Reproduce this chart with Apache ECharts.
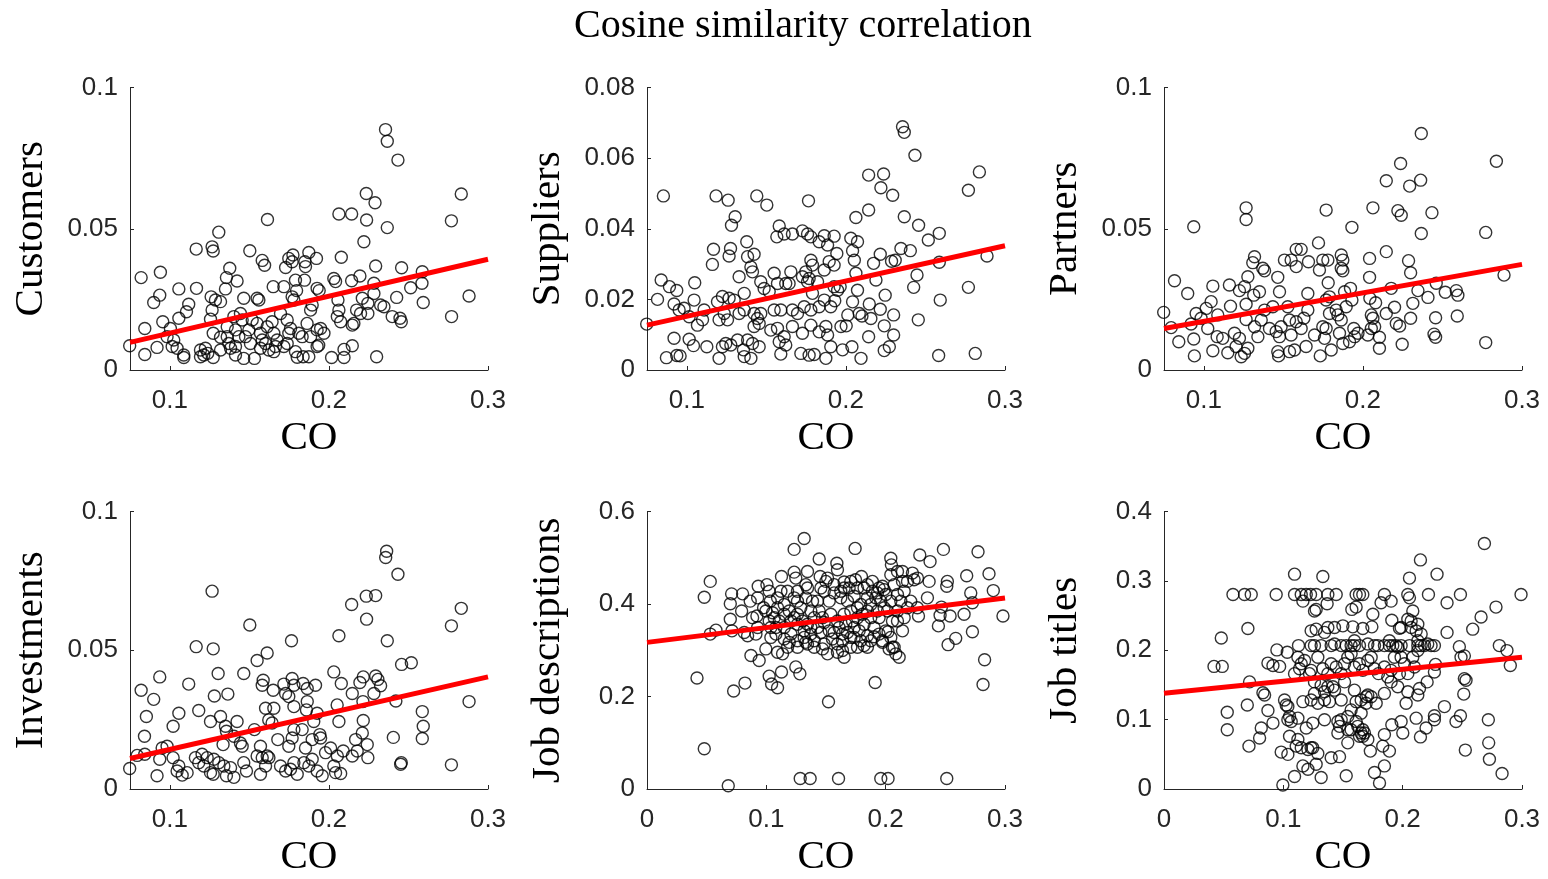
<!DOCTYPE html>
<html><head><meta charset="utf-8">
<script src="https://cdn.jsdelivr.net/npm/echarts@6/dist/echarts.min.js"></script>
<style>html,body{margin:0;padding:0;background:#fff}#c{width:1548px;height:879px}</style>
</head><body><div id="c"></div>
<script>
const titleText = 'Cosine similarity correlation';
const xName = 'CO';
const yNames = ['Customers', 'Suppliers', 'Partners', 'Investments', 'Job descriptions', 'Job titles'];
const xMins = [0.075, 0.075, 0.075, 0.075, 0, 0];
const xMaxs = [0.3, 0.3, 0.3, 0.3, 0.3, 0.3];
const xTickVals = [[0.1, 0.2, 0.3], [0.1, 0.2, 0.3], [0.1, 0.2, 0.3], [0.1, 0.2, 0.3], [0, 0.1, 0.2, 0.3], [0, 0.1, 0.2, 0.3]];
const yMaxs = [0.1, 0.08, 0.1, 0.1, 0.6, 0.4];
const yIntervals = [0.05, 0.02, 0.05, 0.05, 0.2, 0.1];

const customers = [
[0.2356,0.0851],[0.2367,0.081],[0.2434,0.0743],[0.2235,0.0625],[0.229,0.0592],[0.2832,0.0623],[0.2063,0.0552],[0.2143,0.0552],[0.2237,0.0531],[0.2367,0.0504],[0.277,0.0528],[0.1614,0.0533],[0.1308,0.0488],[0.1166,0.0428],[0.1266,0.0436],[0.1273,0.0421],[0.222,0.0454],[0.1503,0.0422],[0.1581,0.0388],[0.1596,0.0371],[0.1774,0.0407],[0.1874,0.0416],[0.1922,0.0395],[0.1748,0.0395],[0.1769,0.0383],[0.1728,0.0363],[0.1849,0.0383],[0.1853,0.0366],[0.2078,0.0399],[0.2294,0.0368],[0.2457,0.0362],[0.2587,0.0348],[0.2585,0.0307],[0.0941,0.0346],[0.082,0.0327],[0.1377,0.036],[0.1356,0.0327],[0.1423,0.0315],[0.135,0.0287],[0.179,0.0318],[0.1847,0.0318],[0.2031,0.0324],[0.2042,0.0313],[0.2143,0.0316],[0.2195,0.0333],[0.2283,0.0307],[0.2514,0.0291],[0.165,0.0295],[0.1717,0.0295],[0.1797,0.0281],[0.1926,0.0289],[0.1939,0.0281],[0.1057,0.0287],[0.1168,0.0289],[0.0937,0.0265],[0.0899,0.0239],[0.1119,0.0233],[0.1105,0.0206],[0.1057,0.0183],[0.0956,0.0171],[0.0843,0.0147],[0.0748,0.0086],[0.0843,0.0055],[0.092,0.008],[0.1015,0.0083],[0.1046,0.0077],[0.1088,0.0053],[0.1088,0.0044],[0.1193,0.0071],[0.1193,0.0047],[0.1224,0.0077],[0.1239,0.0059],[0.1273,0.0044],[0.1214,0.0053],[0.126,0.0259],[0.1287,0.0248],[0.1319,0.0242],[0.1266,0.0212],[0.1256,0.018],[0.1273,0.013],[0.1319,0.0116],[0.1361,0.0153],[0.1361,0.0118],[0.1371,0.0094],[0.1382,0.0077],[0.1413,0.0142],[0.1413,0.0053],[0.1444,0.02],[0.1455,0.0177],[0.1465,0.0254],[0.1476,0.0118],[0.1465,0.0041],[0.1532,0.0041],[0.1549,0.0254],[0.156,0.0248],[0.1549,0.0165],[0.157,0.013],[0.1581,0.0106],[0.1612,0.0153],[0.1643,0.0171],[0.1654,0.013],[0.1664,0.0083],[0.1717,0.0083],[0.1738,0.0177],[0.1759,0.0147],[0.1769,0.0259],[0.178,0.0248],[0.179,0.0065],[0.1811,0.013],[0.1801,0.0045],[0.1838,0.0047],[0.1863,0.0165],[0.1874,0.0047],[0.1885,0.0212],[0.1895,0.023],[0.1885,0.0118],[0.1926,0.0142],[0.1936,0.0088],[0.1948,0.0147],[0.1969,0.013],[0.2017,0.0044],[0.2053,0.0189],[0.2063,0.0212],[0.2057,0.0248],[0.2074,0.0171],[0.2095,0.0073],[0.2095,0.0044],[0.2147,0.0159],[0.2157,0.0165],[0.2147,0.0086],[0.2174,0.0212],[0.2199,0.02],[0.221,0.0254],[0.2245,0.0236],[0.2245,0.02],[0.2283,0.0271],[0.23,0.0047],[0.2325,0.023],[0.2346,0.0224],[0.2398,0.0189],[0.2447,0.0183],[0.2455,0.0171],[0.2426,0.0257],[0.2593,0.0239],[0.2771,0.0189],[0.2881,0.0262],[0.1403,0.0189],[0.1434,0.0118],[0.1497,0.0142],[0.1518,0.0177],[0.1602,0.0094],[0.1623,0.0071],[0.1675,0.0106],[0.1696,0.02],[0.1748,0.013],[0.1832,0.0118],[0.1004,0.0147],[0.0983,0.0118],[0.1025,0.0106],[0.1319,0.0071],[0.1413,0.0083],[0.1507,0.0094],[0.157,0.0077],[0.1654,0.0065],[0.1738,0.0094],[0.1926,0.0083]
];
const suppliers = [
[0.2356,0.0689],[0.2367,0.0673],[0.2434,0.0608],[0.2143,0.0552],[0.2237,0.0555],[0.222,0.0516],[0.2294,0.0495],[0.2839,0.0561],[0.277,0.0509],[0.0853,0.0493],[0.1184,0.0493],[0.126,0.0481],[0.144,0.0493],[0.1503,0.0467],[0.1765,0.0479],[0.2143,0.0453],[0.2063,0.0432],[0.2367,0.0434],[0.2457,0.041],[0.1304,0.0434],[0.1281,0.041],[0.1581,0.0408],[0.1566,0.0377],[0.1612,0.0385],[0.1664,0.0385],[0.1727,0.0394],[0.1759,0.0385],[0.178,0.0377],[0.1864,0.038],[0.1926,0.0379],[0.1832,0.0363],[0.1885,0.0354],[0.2031,0.0373],[0.2073,0.0363],[0.2042,0.0338],[0.2053,0.0311],[0.1943,0.033],[0.2587,0.0387],[0.2518,0.0368],[0.2405,0.0338],[0.2346,0.0344],[0.1168,0.0342],[0.1275,0.0344],[0.1266,0.0323],[0.1161,0.0299],[0.1377,0.0363],[0.1382,0.0321],[0.1423,0.0328],[0.1403,0.0292],[0.1413,0.0278],[0.178,0.0311],[0.179,0.0297],[0.1895,0.0307],[0.1926,0.0297],[0.2216,0.0328],[0.2174,0.0302],[0.2287,0.0308],[0.231,0.0311],[0.2587,0.0305],[0.2887,0.0323],[0.2447,0.0269],[0.2426,0.0234],[0.277,0.0234],[0.2189,0.0255],[0.2063,0.0274],[0.2073,0.0226],[0.1964,0.0236],[0.1948,0.0226],[0.1864,0.0283],[0.1769,0.0259],[0.1759,0.025],[0.179,0.0217],[0.1822,0.025],[0.1654,0.0278],[0.1643,0.0245],[0.1622,0.0245],[0.1549,0.0274],[0.157,0.0245],[0.1465,0.025],[0.1486,0.0231],[0.1518,0.0222],[0.1329,0.0264],[0.1361,0.0217],[0.105,0.0247],[0.0839,0.0255],[0.0891,0.0236],[0.0937,0.0225],[0.0816,0.02],[0.0748,0.013],[0.1046,0.0198],[0.092,0.0187],[0.0952,0.017],[0.0983,0.0175],[0.1015,0.0151],[0.1067,0.0127],[0.1099,0.0142],[0.1109,0.017],[0.1193,0.0193],[0.1224,0.0208],[0.1266,0.0203],[0.1298,0.0198],[0.1235,0.016],[0.1203,0.0142],[0.1256,0.0142],[0.1329,0.016],[0.1361,0.017],[0.1423,0.016],[0.1444,0.0146],[0.1455,0.0132],[0.1465,0.016],[0.1423,0.0123],[0.1528,0.0113],[0.1549,0.017],[0.1591,0.017],[0.157,0.0118],[0.1612,0.0094],[0.1664,0.017],[0.1696,0.016],[0.1738,0.0179],[0.178,0.017],[0.1832,0.0179],[0.1864,0.0198],[0.1905,0.0179],[0.193,0.0196],[0.1664,0.0123],[0.1727,0.0104],[0.178,0.0127],[0.1832,0.0108],[0.1874,0.0123],[0.1885,0.0099],[0.1905,0.0066],[0.1874,0.0033],[0.1717,0.0047],[0.1769,0.0042],[0.1801,0.0044],[0.1979,0.0057],[0.2038,0.0066],[0.2095,0.0033],[0.1969,0.0123],[0.2002,0.0125],[0.2012,0.0156],[0.2042,0.0193],[0.2084,0.016],[0.2101,0.0153],[0.2147,0.0187],[0.2157,0.0146],[0.2216,0.0172],[0.2247,0.0212],[0.23,0.0156],[0.2241,0.0125],[0.2143,0.0094],[0.23,0.0099],[0.2273,0.0066],[0.2241,0.0055],[0.2455,0.0142],[0.2593,0.0198],[0.2583,0.0041],[0.2813,0.0047],[0.0872,0.0035],[0.0937,0.0041],[0.0958,0.004],[0.092,0.009],[0.1015,0.0087],[0.1042,0.0069],[0.1126,0.0066],[0.1203,0.0033],[0.1224,0.0066],[0.1245,0.0075],[0.1277,0.0071],[0.1319,0.0085],[0.1356,0.0057],[0.1361,0.0038],[0.1403,0.0033],[0.1382,0.0085],[0.1413,0.0075],[0.1455,0.0066],[0.1581,0.008],[0.1591,0.0045],[0.1622,0.0071],[0.1727,0.0264],[0.1748,0.0278],[0.1926,0.0236]
];
const partners = [
[0.2367,0.0837],[0.2237,0.0731],[0.2839,0.0739],[0.2147,0.067],[0.2294,0.0651],[0.2363,0.0672],[0.1266,0.0574],[0.1266,0.0533],[0.1769,0.0566],[0.2063,0.0574],[0.222,0.0564],[0.2241,0.0548],[0.2434,0.0557],[0.0937,0.0507],[0.1931,0.0505],[0.2772,0.0487],[0.2367,0.0483],[0.1721,0.045],[0.1581,0.0427],[0.1612,0.0427],[0.1319,0.0401],[0.1308,0.038],[0.1371,0.036],[0.1382,0.0351],[0.1507,0.0389],[0.1549,0.0389],[0.1581,0.0366],[0.1658,0.0383],[0.1727,0.0354],[0.1748,0.0389],[0.178,0.0389],[0.1864,0.0407],[0.1874,0.0389],[0.1864,0.036],[0.1874,0.0351],[0.2042,0.0395],[0.2042,0.0328],[0.2147,0.0419],[0.2287,0.0387],[0.23,0.0344],[0.2887,0.0336],[0.1277,0.033],[0.1465,0.0328],[0.0816,0.0316],[0.0899,0.0271],[0.1057,0.0297],[0.1161,0.0301],[0.1224,0.0281],[0.1256,0.0295],[0.1314,0.0265],[0.135,0.0277],[0.1476,0.0277],[0.1654,0.0271],[0.1782,0.0309],[0.179,0.0259],[0.1885,0.0277],[0.1922,0.0289],[0.1931,0.0248],[0.2044,0.0254],[0.208,0.0238],[0.2178,0.0289],[0.2346,0.0281],[0.2409,0.0257],[0.2461,0.0307],[0.2518,0.0275],[0.2587,0.0281],[0.2597,0.0265],[0.2314,0.0236],[0.2199,0.0222],[0.2147,0.02],[0.2053,0.0195],[0.2063,0.0183],[0.2074,0.0153],[0.23,0.0183],[0.221,0.0165],[0.2231,0.0156],[0.2457,0.0185],[0.2593,0.0191],[0.2447,0.0127],[0.2457,0.0116],[0.2772,0.0097],[0.2247,0.0091],[0.2104,0.0116],[0.2104,0.0077],[0.0748,0.0204],[0.0795,0.015],[0.0843,0.01],[0.0937,0.011],[0.0941,0.005],[0.092,0.0163],[0.0952,0.02],[0.0983,0.0183],[0.1015,0.0218],[0.1046,0.0242],[0.1025,0.0147],[0.1088,0.0195],[0.1084,0.0118],[0.1119,0.0112],[0.1057,0.0068],[0.1151,0.0061],[0.1168,0.0226],[0.1193,0.013],[0.1203,0.0083],[0.1224,0.0112],[0.1235,0.0047],[0.1256,0.0059],[0.1277,0.0077],[0.1266,0.0233],[0.1266,0.0179],[0.1319,0.0153],[0.134,0.0118],[0.1361,0.0177],[0.1382,0.0212],[0.1413,0.0147],[0.1434,0.0224],[0.1455,0.0136],[0.1465,0.0065],[0.147,0.005],[0.1476,0.0118],[0.1486,0.0153],[0.1528,0.0224],[0.1539,0.0177],[0.1549,0.0124],[0.1539,0.0065],[0.157,0.0071],[0.1581,0.0171],[0.1612,0.0147],[0.1629,0.0183],[0.1643,0.0083],[0.1654,0.0212],[0.1696,0.0124],[0.1732,0.005],[0.1748,0.0153],[0.1759,0.0112],[0.1769,0.0248],[0.1769,0.0147],[0.179,0.02],[0.1801,0.0071],[0.1832,0.0212],[0.1843,0.0195],[0.1853,0.013],[0.1864,0.0177],[0.1874,0.0094],[0.1895,0.0224],[0.1916,0.01],[0.1943,0.0147],[0.1948,0.0118],[0.1969,0.013],[0.2031,0.0124],[0.2053,0.0147]
];
const investments = [
[0.2363,0.0857],[0.2357,0.0834],[0.2434,0.0774],[0.1266,0.0713],[0.2143,0.0665],[0.2235,0.0695],[0.2294,0.0697],[0.2237,0.0612],[0.2832,0.0651],[0.277,0.0588],[0.1503,0.0591],[0.2063,0.0552],[0.2367,0.0534],[0.1765,0.0534],[0.1166,0.0513],[0.1273,0.0505],[0.1612,0.049],[0.1549,0.0463],[0.2457,0.0449],[0.2518,0.0455],[0.0937,0.0404],[0.1304,0.0416],[0.1465,0.0416],[0.2031,0.0422],[0.2216,0.0404],[0.2294,0.0407],[0.2308,0.0395],[0.2195,0.0384],[0.2325,0.0372],[0.2078,0.038],[0.1119,0.0378],[0.082,0.0356],[0.0899,0.0323],[0.128,0.0335],[0.1365,0.0342],[0.1587,0.0392],[0.1581,0.0374],[0.165,0.0356],[0.1717,0.0378],[0.1769,0.0398],[0.178,0.0374],[0.1838,0.038],[0.1864,0.0362],[0.1916,0.0374],[0.1728,0.0344],[0.1748,0.0333],[0.178,0.0297],[0.1864,0.0315],[0.1859,0.0285],[0.1926,0.0273],[0.2052,0.0303],[0.2147,0.0344],[0.2214,0.0315],[0.2283,0.0344],[0.2421,0.0317],[0.2587,0.0279],[0.2593,0.0226],[0.2587,0.0182],[0.2405,0.0186],[0.2881,0.0315],[0.2455,0.0095],[0.2451,0.0089],[0.277,0.0087],[0.1057,0.0273],[0.1182,0.0283],[0.0853,0.0261],[0.1021,0.0226],[0.0841,0.019],[0.1256,0.0243],[0.1319,0.0261],[0.135,0.0226],[0.1356,0.0208],[0.1423,0.0243],[0.1335,0.016],[0.1403,0.019],[0.1444,0.0166],[0.1455,0.0154],[0.1532,0.0214],[0.1602,0.0291],[0.1654,0.0291],[0.1622,0.0249],[0.1643,0.0238],[0.1679,0.0178],[0.157,0.0154],[0.1549,0.0119],[0.1581,0.0113],[0.1612,0.0119],[0.178,0.0214],[0.1769,0.0184],[0.1748,0.0154],[0.1832,0.0214],[0.1853,0.0148],[0.1895,0.0178],[0.1943,0.0196],[0.1948,0.0184],[0.1905,0.0243],[0.1979,0.0131],[0.2011,0.0148],[0.2063,0.0243],[0.2053,0.0119],[0.209,0.0137],[0.2147,0.0119],[0.2168,0.0178],[0.2178,0.0137],[0.221,0.0202],[0.2216,0.0247],[0.2241,0.016],[0.2245,0.0113],[0.0748,0.0074],[0.0795,0.0121],[0.0843,0.0125],[0.092,0.0048],[0.0937,0.0107],[0.0952,0.0148],[0.0983,0.0154],[0.1021,0.0113],[0.1046,0.0065],[0.1057,0.0083],[0.1078,0.005],[0.1109,0.0059],[0.1161,0.0113],[0.1182,0.0095],[0.1203,0.0125],[0.1214,0.0083],[0.1235,0.0113],[0.1256,0.0059],[0.1273,0.0053],[0.1277,0.0107],[0.1308,0.0095],[0.134,0.0083],[0.1356,0.0048],[0.1382,0.0077],[0.1403,0.0042],[0.1465,0.0095],[0.1482,0.0065],[0.157,0.0053],[0.1602,0.0083],[0.1623,0.0113],[0.1696,0.0083],[0.1728,0.0065],[0.1759,0.0071],[0.178,0.0095],[0.1801,0.0053],[0.1843,0.0095],[0.1874,0.0083],[0.1895,0.0107],[0.1926,0.0065],[0.1958,0.0048],[0.2031,0.0083],[0.2042,0.0059],[0.2074,0.0056]
];
const jobDescriptions = [
[0.0419,0.24],[0.048,0.087],[0.0681,0.007],[0.0726,0.212],[0.0821,0.229],[0.1024,0.244],[0.1044,0.227],[0.1094,0.219],[0.1127,0.253],[0.1247,0.264],[0.1281,0.249],[0.1284,0.0228],[0.1367,0.0228],[0.1605,0.0228],[0.1521,0.1888],[0.1912,0.2302],[0.1959,0.0228],[0.202,0.0228],[0.2512,0.0228],[0.2816,0.2259],[0.2829,0.2793],[0.2587,0.3257],[0.2523,0.3121],[0.2727,0.3399],[0.2657,0.3777],[0.2983,0.3741],[0.2902,0.429],[0.2866,0.4653],[0.2774,0.5131],[0.2679,0.461],[0.2713,0.424],[0.2727,0.4026],[0.2484,0.5181],[0.2517,0.4489],[0.2512,0.4383],[0.2467,0.3933],[0.254,0.3741],[0.2456,0.3755],[0.2442,0.3527],[0.235,0.4133],[0.2364,0.4489],[0.2372,0.4917],[0.2286,0.5059],[0.2275,0.3741],[0.2266,0.456],[0.2224,0.4668],[0.2238,0.4525],[0.2141,0.4703],[0.2141,0.4489],[0.2043,0.4988],[0.2048,0.4846],[0.2043,0.4632],[0.1987,0.4311],[0.1945,0.4347],[0.2127,0.4062],[0.2183,0.3919],[0.2155,0.3705],[0.2141,0.342],[0.2113,0.285],[0.2071,0.3064],[0.2029,0.3029],[0.202,0.3399],[0.1973,0.3171],[0.1903,0.3492],[0.1903,0.3292],[0.1847,0.3064],[0.1819,0.31],[0.1744,0.5202],[0.1797,0.4596],[0.1747,0.4525],[0.1708,0.4489],[0.1652,0.4475],[0.1591,0.4881],[0.1596,0.4739],[0.1499,0.4489],[0.1451,0.4596],[0.1443,0.4974],[0.1317,0.5416],[0.1233,0.5181],[0.1233,0.4689],[0.1247,0.456],[0.1345,0.4703],[0.1331,0.4418],[0.1127,0.4596],[0.1005,0.4418],[0.1024,0.4276],[0.0932,0.4383],[0.0865,0.4062],[0.0801,0.4219],[0.0709,0.4219],[0.0698,0.4005],[0.0793,0.3848],[0.0885,0.3705],[0.0921,0.3741],[0.0977,0.3919],[0.1033,0.4062],[0.1094,0.3919],[0.053,0.4489],[0.048,0.4147],[0.053,0.3349],[0.0578,0.3435],[0.0698,0.367],[0.0712,0.342],[0.0815,0.3385],[0.0843,0.3314],[0.0913,0.3349],[0.0871,0.2886],[0.094,0.2779],[0.0996,0.3029],[0.1038,0.3278],[0.1094,0.2957],[0.1136,0.2922],[0.1178,0.3064],[0.115,0.3492],[0.1206,0.3634],[0.1261,0.3777],[0.1289,0.3919],[0.1331,0.4133],[0.1373,0.3848],[0.1401,0.3705],[0.1429,0.4062],[0.1485,0.4276],[0.1527,0.4062],[0.1568,0.424],[0.1624,0.4133],[0.168,0.4062],[0.1736,0.4169],[0.1792,0.399],[0.1847,0.4133],[0.1889,0.4276],[0.1931,0.3848],[0.1987,0.3919],[0.2043,0.4062],[0.1206,0.3349],[0.1261,0.3207],[0.1317,0.3278],[0.1345,0.3135],[0.1401,0.3207],[0.1457,0.3385],[0.1513,0.2922],[0.1554,0.3242],[0.1596,0.3135],[0.1638,0.2993],[0.1652,0.285],[0.1708,0.3278],[0.1736,0.3492],[0.1764,0.3705],[0.1596,0.3634],[0.154,0.3777],[0.1485,0.3599],[0.1652,0.3777],[0.1708,0.3848],[0.1819,0.3563],[0.1875,0.3705],[0.1429,0.3492],[0.1345,0.3563],[0.1261,0.3563],[0.115,0.3777],[0.1066,0.3705],[0.1094,0.4133],[0.1178,0.4276],[0.1233,0.4133],[0.1457,0.4347],[0.1652,0.4347],[0.1847,0.4418],[0.1973,0.4383],[0.2071,0.4418],[0.2099,0.4204],[0.221,0.4062],[0.2266,0.3919],[0.2099,0.3848],[0.2099,0.3634],[0.2043,0.3278],[0.1945,0.3349],[0.1875,0.3207],[0.1764,0.3064],[0.1708,0.3064],[0.1485,0.3135],[0.1373,0.3349],[0.1038,0.3492],[0.0927,0.3492],
[0.0996,0.3848],[0.1024,0.3634],[0.1052,0.3812],[0.1108,0.3634],[0.115,0.399],[0.1192,0.3848],[0.1233,0.3705],[0.1303,0.3634],[0.1317,0.342],[0.1373,0.3492],[0.1387,0.4062],[0.1443,0.3848],[0.1471,0.3705],[0.1527,0.342],[0.1568,0.3385],[0.161,0.3492],[0.1638,0.3349],[0.1666,0.3563],[0.168,0.3385],[0.1722,0.3634],[0.1764,0.3919],[0.1778,0.342],[0.1806,0.3777],[0.1847,0.3848],[0.1875,0.399],[0.1917,0.4133],[0.1931,0.424],[0.1959,0.4062],[0.2001,0.4204],[0.2015,0.3848],[0.2057,0.3634],[0.1945,0.3705],[0.2001,0.342],[0.2057,0.3064],[0.2085,0.2922],[0.1973,0.3207],[0.1847,0.3314],[0.1792,0.3207],[0.1736,0.3278],[0.1638,0.3207],[0.1596,0.2957],[0.1471,0.3029],[0.1401,0.3064],[0.1331,0.3171],[0.1261,0.3064],[0.1192,0.3171],[0.115,0.3242],[0.108,0.3349],[0.1122,0.4276],[0.1261,0.4276],[0.1345,0.4347],[0.1513,0.456],[0.1568,0.4418],[0.1624,0.4276],[0.1694,0.4347],[0.1764,0.4347],[0.1819,0.4347],[0.1889,0.4489],[0.2099,0.4703],[0.2155,0.4276],[0.2183,0.4489],[0.1261,0.4062],[0.0927,0.4133],[0.108,0.3492]
];
const jobTitles = [
[0.2685,0.3539],[0.2149,0.3302],[0.1094,0.3097],[0.1331,0.3064],[0.2057,0.304],[0.2288,0.3097],
[0.0578,0.2803],[0.0675,0.2803],[0.0731,0.2803],[0.094,0.2803],[0.1094,0.2803],[0.115,0.2803],[0.1192,0.2803],[0.1228,0.2803],[0.1275,0.2803],[0.1373,0.2803],[0.1443,0.2803],[0.161,0.2803],[0.1638,0.2803],[0.1666,0.2803],[0.1847,0.2803],[0.2043,0.2803],[0.2216,0.2803],[0.2484,0.2803],[0.2992,0.2803],
[0.2057,0.2755],[0.1903,0.2708],[0.1819,0.2684],[0.1164,0.2708],[0.1367,0.267],[0.1261,0.2565],[0.1275,0.2589],[0.1574,0.2589],[0.161,0.2622],[0.2372,0.2684],[0.2782,0.2622],[0.2657,0.248],[0.2085,0.2565],[0.175,0.2518],[0.1909,0.2432],[0.2043,0.2447],[0.2071,0.2423],[0.2127,0.2375],[0.1973,0.2318],[0.2113,0.228],[0.2155,0.2233],[0.2372,0.2257],[0.2587,0.2304],[0.0703,0.2313],[0.048,0.2176],[0.1275,0.2304],[0.1345,0.2257],[0.1429,0.2328],[0.1499,0.2352],[0.1582,0.2337],[0.1666,0.2313],[0.1742,0.2337],
[0.1127,0.2067],[0.1233,0.2067],[0.1261,0.2067],[0.1317,0.2067],[0.1401,0.2067],[0.1485,0.2067],[0.1527,0.2067],[0.1568,0.2067],[0.1596,0.2067],[0.1638,0.2067],[0.1764,0.2067],[0.1792,0.2067],[0.1847,0.2067],[0.1889,0.2067],[0.1917,0.2067],[0.1945,0.2067],[0.1987,0.2067],[0.2057,0.2067],[0.2127,0.2067],[0.2155,0.2067],[0.2183,0.2067],[0.2238,0.2067],[0.2266,0.2067],
[0.0946,0.2005],[0.1033,0.1971],[0.0871,0.1815],[0.0913,0.1781],[0.0969,0.1767],[0.0419,0.1767],[0.0488,0.1767],[0.2475,0.2052],[0.2517,0.1919],[0.2489,0.19],[0.281,0.2067],[0.2874,0.1995],[0.2902,0.1781],[0.2275,0.1796],[0.2266,0.1686],[0.2517,0.1591],[0.2531,0.1568],[0.1122,0.19],[0.115,0.1805],[0.1136,0.1734],[0.1094,0.1663],[0.1219,0.1663],[0.1331,0.1734],[0.1401,0.1805],[0.1513,0.1805],[0.1568,0.1948],[0.1638,0.1805],[0.1708,0.1853],[0.1764,0.1734],[0.1797,0.1663],[0.1875,0.1615],[0.1973,0.1663],[0.2015,0.1805],[0.2099,0.1758],[0.2085,0.19],[0.1931,0.19],[0.0717,0.1544],[0.0829,0.1387],[0.0843,0.1354],[0.1261,0.1544],[0.1317,0.1496],[0.1373,0.1473],[0.1429,0.1425],[0.1513,0.1544],[0.1596,0.1425],[0.1708,0.1354],[0.1847,0.1378],[0.1903,0.1544],[0.1959,0.1473],[0.2043,0.1402],[0.2141,0.1449],[0.2205,0.1544],[0.2127,0.1354],[0.2512,0.1368],[0.053,0.1107],[0.0698,0.1211],[0.053,0.0855],[0.0712,0.0618],[0.0801,0.0736],[0.0815,0.0879],[0.0871,0.1131],[0.0913,0.095],[0.101,0.1283],[0.1024,0.1211],[0.1038,0.1188],[0.1052,0.1045],[0.1066,0.0974],[0.1122,0.1021],[0.1192,0.0879],[0.1247,0.095],[0.1164,0.1259],[0.1233,0.1283],[0.1289,0.1235],[0.1345,0.1283],[0.1387,0.1259],[0.1345,0.0998],[0.1457,0.0974],[0.1471,0.0903],[0.1457,0.0808],[0.154,0.1045],[0.1568,0.114],[0.161,0.1259],[0.1652,0.1093],[0.1694,0.1235],[0.1694,0.133],[0.1778,0.1235],[0.161,0.0974],[0.1624,0.0903],[0.1666,0.0855],[0.168,0.0808],[0.1638,0.076],[0.1708,0.0713],[0.154,0.0855],[0.1052,0.076],[0.1108,0.0618],[0.0982,0.0532],[0.1038,0.0499],[0.115,0.0594],[0.1206,0.057],[0.1247,0.0594],[0.1289,0.0513],[0.1164,0.0333],[0.1206,0.0285],[0.1275,0.0356],[0.1401,0.0451],[0.1471,0.0466],[0.154,0.0665],[0.1729,0.0546],[0.1833,0.0618],[0.1889,0.0546],[0.1847,0.0333],[0.1764,0.0238],[0.1806,0.0086],[0.1317,0.0166],[0.1094,0.0181],[0.0996,0.0057],[0.1527,0.019],[0.1847,0.0784],[0.1909,0.0926],[0.1987,0.0974],[0.2001,0.0808],[0.2029,0.1235],[0.2113,0.1021],[0.2196,0.0879],[0.2149,0.0751],[0.2266,0.1055],[0.2266,0.0998],[0.235,0.1188],[0.2447,0.0974],[0.2484,0.1055],[0.2525,0.0561],[0.2718,0.0998],[0.2721,0.0665],[0.2727,0.0428],[0.2833,0.0223],
[0.1178,0.1853],[0.1233,0.171],[0.1289,0.19],[0.1373,0.1663],[0.1443,0.1758],[0.1485,0.1663],[0.154,0.19],[0.1596,0.1758],[0.1666,0.171],[0.1736,0.19],[0.1847,0.1758],[0.1903,0.171],[0.1987,0.19],[0.2043,0.1663],[0.2127,0.1995],[0.221,0.209],[0.1261,0.1378],[0.1345,0.1402],[0.1415,0.1473],[0.1485,0.1283],[0.1652,0.1283],[0.1736,0.133],[0.1568,0.0855],[0.1666,0.076],[0.1652,0.0808],[0.1038,0.0998],[0.1122,0.0713],[0.1233,0.0594],[0.1485,0.0998],[0.1429,0.209],[0.1596,0.2138],[0.1708,0.209],[0.1889,0.2138],[0.1959,0.2043],[0.1233,0.228],[0.1373,0.2328],[0.1987,0.2328],[0.2071,0.2328],[0.2127,0.2138]
];
const panelData = [customers, suppliers, partners, investments, jobDescriptions, jobTitles];

// regression line end points, one pair per panel
const fitCustomers = [[0.075, 0.0098], [0.3, 0.0392]];
const fitSuppliers = [[0.075, 0.0127], [0.3, 0.0352]];
const fitPartners = [[0.075, 0.0147], [0.3, 0.0374]];
const fitInvestments = [[0.075, 0.0110], [0.3, 0.0404]];
const fitJobDescriptions = [[0, 0.317], [0.3, 0.413]];
const fitJobTitles = [[0, 0.138], [0.3, 0.190]];
const fitLines = [fitCustomers, fitSuppliers, fitPartners, fitInvestments, fitJobDescriptions, fitJobTitles];

const chart = echarts.init(document.getElementById('c'), null, {renderer: 'canvas'});
const colLefts = [130, 647, 1164];
const rowTops = [87.5, 511.5];
const rowHeights = [282.5, 280.5];
const axisColor = '#262626';
const grids = [], xAxes = [], yAxes = [], series = [];
for (let i = 0; i < 6; i++) {
  const r = Math.floor(i / 3), c = i % 3;
  grids.push({left: colLefts[c], top: rowTops[r], width: 358, height: rowHeights[r], containLabel: false});
  xAxes.push({
    type: 'value', gridIndex: i, min: xMins[i], max: xMaxs[i],
    name: xName, nameLocation: 'middle', nameGap: 48,
    nameTextStyle: {fontFamily: 'Liberation Serif', fontSize: 41, color: '#000'},
    axisLine: {show: true, onZero: false, lineStyle: {color: axisColor, width: 1}},
    axisTick: {show: true, inside: true, length: 4, lineStyle: {color: axisColor}, customValues: xTickVals[i]},
    axisLabel: {fontFamily: 'Liberation Sans', fontSize: 26, color: axisColor, margin: 18, customValues: xTickVals[i]},
    splitLine: {show: false}
  });
  yAxes.push({
    type: 'value', gridIndex: i, min: 0, max: yMaxs[i], interval: yIntervals[i],
    name: yNames[i], nameLocation: 'middle', nameGap: 78,
    nameTextStyle: {fontFamily: 'Liberation Serif', fontSize: 41, color: '#000'},
    axisLine: {show: true, onZero: false, lineStyle: {color: axisColor, width: 1}},
    axisTick: {show: true, inside: true, length: 4, lineStyle: {color: axisColor}},
    axisLabel: {fontFamily: 'Liberation Sans', fontSize: 26, color: axisColor, margin: 12},
    splitLine: {show: false}
  });
  series.push({
    type: 'scatter', xAxisIndex: i, yAxisIndex: i, data: panelData[i], clip: false,
    symbol: 'circle', symbolSize: 12,
    itemStyle: {color: 'rgba(0,0,0,0)', borderColor: '#000', borderWidth: 1.4},
    emphasis: {disabled: true}, z: 2
  });
  series.push({
    type: 'line', xAxisIndex: i, yAxisIndex: i, data: fitLines[i], showSymbol: false, symbol: 'none',
    lineStyle: {color: '#ff0000', width: 5}, clip: false, z: 3, emphasis: {disabled: true}
  });
}
chart.setOption({
  animation: false,
  backgroundColor: '#fff',
  title: {text: titleText, left: 569, top: 1, textStyle: {fontFamily: 'Liberation Serif', fontSize: 40, fontWeight: 'normal', color: '#000'}},
  grid: grids, xAxis: xAxes, yAxis: yAxes, series: series
});
</script></body></html>
